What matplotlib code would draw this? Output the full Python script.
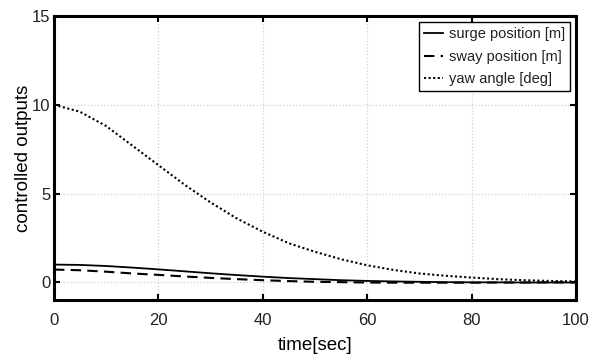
import matplotlib.pyplot as plt

# Data (5 s steps)
time = [0, 5, 10, 15, 20, 25, 30, 35, 40, 45, 50, 55, 60, 65, 70, 75, 80, 85, 90, 95, 100]
surge = [1.0, 0.98, 0.92, 0.83, 0.73, 0.62, 0.51, 0.41, 0.32, 0.24, 0.18, 0.12, 0.08,
         0.05, 0.03, 0.01, 0.0, 0.0, -0.01, -0.01, -0.01]
sway = [0.72, 0.68, 0.6, 0.5, 0.42, 0.33, 0.25, 0.18, 0.12, 0.07, 0.03, 0.01, -0.01,
        -0.02, -0.02, -0.02, -0.02, -0.01, -0.01, 0.0, 0.0]
yaw = [10.0, 9.6, 8.8, 7.7, 6.6, 5.5, 4.5, 3.6, 2.85, 2.2, 1.72, 1.3, 0.96,
       0.7, 0.5, 0.37, 0.27, 0.18, 0.12, 0.08, 0.05]
labels = ['surge position [m]', 'sway position [m]', 'yaw angle [deg]']

plt.rcParams['font.family'] = ['Liberation Sans', 'DejaVu Sans']
plt.rcParams['text.color'] = '#222222'

fig = plt.figure(figsize=(6.02, 3.62), dpi=100)
ax = fig.add_axes([0.0897, 0.171, 0.867, 0.785])

ax.plot(time, surge, color='black', linestyle='-', linewidth=1.3, label=labels[0])
ax.plot(time, sway, color='black', linestyle=(0, (5, 3)), linewidth=1.5, label=labels[1])
ax.plot(time, yaw, color='black', linestyle=(0, (1, 1.2)), linewidth=1.5, label=labels[2])

ax.set_xlim(0, 100)
ax.set_ylim(-1, 15)
ax.set_xticks([0, 20, 40, 60, 80, 100])
ax.set_yticks([0, 5, 10, 15])
ax.grid(True, color='#d0d0d0', linestyle=':', linewidth=0.9)
ax.tick_params(direction='in', length=4, width=1.5, top=True, right=True, labelsize=12,
               color='black', labelcolor='#222222')
ax.tick_params(axis='y', pad=2.5)
ax.tick_params(axis='x', pad=9)
for s in ax.spines.values():
    s.set_linewidth(2.2)
ax.set_xlabel('time[sec]', fontsize=13.5, labelpad=7)
ax.set_ylabel('controlled outputs', fontsize=13.5, labelpad=0)

leg = ax.legend(loc='upper right', fontsize=10.5, handlelength=1.3, handletextpad=0.4,
                borderpad=0.35, labelspacing=0.6, fancybox=False, framealpha=1,
                borderaxespad=0.4)
leg.get_frame().set_edgecolor('black')
leg.get_frame().set_linewidth(1.0)

plt.savefig('out.png', dpi=100)
